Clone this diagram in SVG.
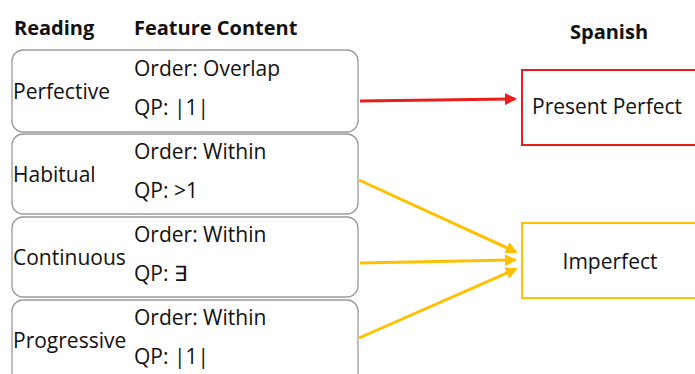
<svg xmlns="http://www.w3.org/2000/svg" width="695" height="374" viewBox="0 0 695 374">
<style>
text{font-family:"Open Sans","Noto Sans",sans-serif;fill:#111;font-size:21px}
.h{font-weight:bold;font-size:20px}
.box{fill:#fff;stroke:#9a9a9a;stroke-width:1.3}
.red{stroke:#ea1c1c;stroke-width:3;fill:none}
.yel{stroke:#ffc000;stroke-width:3;fill:none}
</style>
<defs>
<marker id="mr" markerWidth="12" markerHeight="12" refX="10" refY="6" orient="auto" markerUnits="userSpaceOnUse"><path d="M0,0 L12,6 L0,12 Z" fill="#ea1c1c"/></marker>
<marker id="my" markerWidth="12" markerHeight="12" refX="10" refY="6" orient="auto" markerUnits="userSpaceOnUse"><path d="M0,0 L12,6 L0,12 Z" fill="#ffc000"/></marker>
</defs>
<rect width="695" height="374" fill="#fff"/>
<g id="headers">
<text class="h" x="14" y="35">Reading</text>
<text class="h" x="134" y="35">Feature Content</text>
<text class="h" x="609" y="39" text-anchor="middle">Spanish</text>
</g>
<g id="perfective">
<rect class="box" x="12" y="50" width="346" height="82" rx="11"/>
<text x="13" y="99">Perfective</text>
<text x="134" y="76">Order: Overlap</text>
<text x="134" y="115">QP: |1|</text>
</g>
<g id="habitual">
<rect class="box" x="12" y="134" width="346" height="80" rx="11"/>
<text x="13" y="182">Habitual</text>
<text x="134" y="159">Order: Within</text>
<text x="134" y="198">QP: &gt;1</text>
</g>
<g id="continuous">
<rect class="box" x="12" y="217" width="346" height="80" rx="11"/>
<text x="13" y="265">Continuous</text>
<text x="134" y="242">Order: Within</text>
<text x="134" y="281">QP: ∃</text>
</g>
<g id="progressive">
<rect class="box" x="12" y="300" width="346" height="84" rx="11"/>
<text x="13" y="348">Progressive</text>
<text x="134" y="325">Order: Within</text>
<text x="134" y="364">QP: |1|</text>
</g>
<g id="present-perfect">
<rect x="522" y="70" width="180" height="75" fill="#fff" stroke="#ea1c1c" stroke-width="2"/>
<text x="532" y="114">Present Perfect</text>
</g>
<g id="imperfect">
<rect x="522" y="223" width="180" height="75" fill="#fff" stroke="#ffc000" stroke-width="2"/>
<text x="610" y="269" text-anchor="middle">Imperfect</text>
</g>
<g id="connectors">
<line class="red" x1="360" y1="101" x2="515" y2="99" marker-end="url(#mr)"/>
<line class="yel" x1="359" y1="180" x2="516" y2="252" marker-end="url(#my)"/>
<line class="yel" x1="360" y1="263" x2="515" y2="260" marker-end="url(#my)"/>
<line class="yel" x1="359" y1="338" x2="516" y2="269" marker-end="url(#my)"/>
</g>
</svg>
